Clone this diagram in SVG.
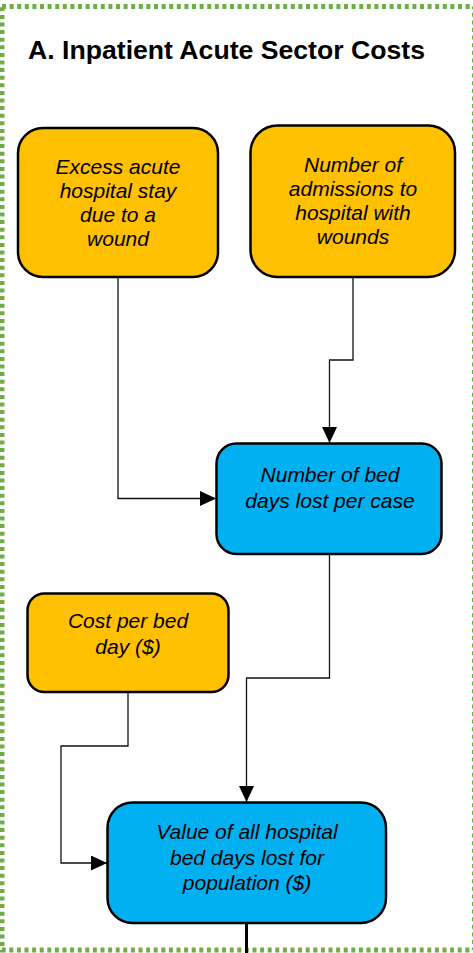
<svg xmlns="http://www.w3.org/2000/svg" width="473" height="953" viewBox="0 0 473 953">
  <style>
    .frame { fill: none; stroke: #70AD47; stroke-width: 5; stroke-dasharray: 4 3.6; }
    .title { font-family: "Liberation Sans", Arial, sans-serif; font-weight: bold; font-size: 26.6px; fill: #000; }
    .box { stroke: #000; stroke-width: 2.5; }
    .orange { fill: #FFC000; }
    .blue { fill: #00B0F0; }
    .lbl { font-family: "Liberation Sans", Arial, sans-serif; font-style: italic; font-size: 21px; fill: #000; text-anchor: middle; }
    .conn { fill: none; stroke: #111; stroke-width: 1.3; }
    .thick { fill: none; stroke: #000; stroke-width: 3; }
  </style>
  <defs>
    <marker id="arrow" markerUnits="userSpaceOnUse" markerWidth="16" markerHeight="15" refX="16" refY="7.5" orient="auto">
      <path d="M0,0 L16,7.5 L0,15 Z" fill="#000"/>
    </marker>
  </defs>
  <rect width="473" height="953" fill="#fff"/>
  <rect class="frame" x="2" y="6.5" width="472.5" height="943.5"/>
  <text class="title" x="28" y="59" textLength="397" lengthAdjust="spacingAndGlyphs">A. Inpatient Acute Sector Costs</text>

  <g id="connectors">
    <path class="conn" d="M118 277 V498.5 H216" marker-end="url(#arrow)"/>
    <path class="conn" d="M353 277 V360 H329.5 V443" marker-end="url(#arrow)"/>
    <path class="conn" d="M329.5 554 V678 H246.5 V802" marker-end="url(#arrow)"/>
    <path class="conn" d="M128 692 V746 H61 V863 H107" marker-end="url(#arrow)"/>
    <path class="thick" d="M246.5 923 V953"/>
  </g>

  <g id="node-excess-stay">
    <rect class="box orange" x="18" y="128" width="200" height="149" rx="25"/>
    <text class="lbl" x="118" y="173.5">Excess acute</text>
    <text class="lbl" x="118" y="197.5">hospital stay</text>
    <text class="lbl" x="118" y="221.5">due to a</text>
    <text class="lbl" x="118" y="245.5">wound</text>
  </g>

  <g id="node-admissions">
    <rect class="box orange" x="250.5" y="125.5" width="204.5" height="151.5" rx="27"/>
    <text class="lbl" x="353" y="172">Number of</text>
    <text class="lbl" x="353" y="196">admissions to</text>
    <text class="lbl" x="353" y="220">hospital with</text>
    <text class="lbl" x="353" y="244">wounds</text>
  </g>

  <g id="node-bed-days-per-case">
    <rect class="box blue" x="216.5" y="443.5" width="225" height="110.5" rx="20"/>
    <text class="lbl" x="330" y="482">Number of bed</text>
    <text class="lbl" x="330" y="507.5">days lost per case</text>
  </g>

  <g id="node-cost-per-bed-day">
    <rect class="box orange" x="27.5" y="593.5" width="201" height="98.5" rx="17"/>
    <text class="lbl" x="128" y="628">Cost per bed</text>
    <text class="lbl" x="128" y="654">day ($)</text>
  </g>

  <g id="node-value-bed-days">
    <rect class="box blue" x="107.5" y="802.5" width="278.5" height="120.5" rx="25"/>
    <text class="lbl" x="247" y="839">Value of all hospital</text>
    <text class="lbl" x="247" y="864.5">bed days lost for</text>
    <text class="lbl" x="247" y="890">population ($)</text>
  </g>
</svg>
